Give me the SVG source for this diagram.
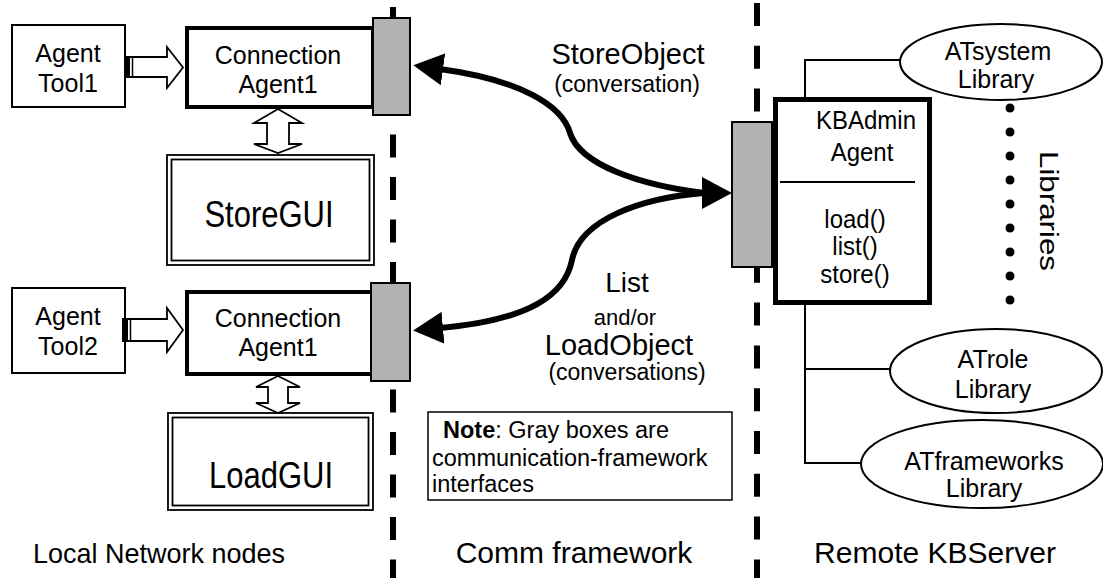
<svg xmlns="http://www.w3.org/2000/svg" width="1103" height="578" viewBox="0 0 1103 578">
<style>
text{font-family:"Liberation Sans",Arial,sans-serif;fill:#000}
.c{text-anchor:middle}
.box{fill:#fff;stroke:#000;stroke-width:2}
.thick{fill:#fff;stroke:#000;stroke-width:4}
.dbl{fill:none;stroke:#000;stroke-width:1.8}
.gray{fill:#b2b2b2;stroke:#000;stroke-width:2}
.blk{fill:#fff;stroke:#000;stroke-width:1.8;stroke-linejoin:miter}
.dash{stroke:#000;stroke-width:6;fill:none}
.curve{fill:none;stroke:#000;stroke-width:6}
.thin{fill:none;stroke:#000;stroke-width:2}
.ell{fill:#fff;stroke:#000;stroke-width:2}
.dot{fill:#000}
</style>
<defs>
<marker id="ah" markerUnits="userSpaceOnUse" viewBox="0 0 30 32" markerWidth="30" markerHeight="32" refX="3" refY="16" orient="auto"><path d="M0,0 L30,16 L0,32 z" fill="#000"/></marker>
</defs>
<rect width="1103" height="578" fill="#fff"/>

<g id="separators">
<line class="dash" x1="393" y1="0" x2="393" y2="578" stroke-dasharray="23 19.5" stroke-dashoffset="35.5"/>
<line class="dash" x1="757" y1="0" x2="757" y2="578" stroke-dasharray="23 19.8" stroke-dashoffset="39.8"/>
</g>

<g id="agentTool1">
<rect class="box" x="12" y="25" width="113" height="82"/>
<text class="c" font-size="25"><tspan x="68" y="62">Agent</tspan><tspan x="68" y="92">Tool1</tspan></text>
</g>
<g id="connAgent1">
<rect class="thick" x="187" y="28" width="186" height="79"/>
<text class="c" font-size="25"><tspan x="278" y="64">Connection</tspan><tspan x="278" y="93">Agent1</tspan></text>
<rect class="gray" x="373" y="18" width="37" height="97"/>
</g>
<g id="storeGUI">
<rect class="dbl" x="167" y="155" width="207" height="110"/>
<rect class="dbl" x="171.5" y="159.5" width="198" height="101"/>
<text class="c" font-size="31" transform="translate(269,227) scale(1,1.2)">StoreGUI</text>
</g>

<g id="agentTool2">
<rect class="box" x="12" y="288" width="113" height="85"/>
<text class="c" font-size="25"><tspan x="68" y="325">Agent</tspan><tspan x="68" y="355">Tool2</tspan></text>
</g>
<g id="connAgent2">
<rect class="thick" x="187" y="292" width="186" height="82"/>
<text class="c" font-size="25"><tspan x="278" y="327">Connection</tspan><tspan x="278" y="356">Agent1</tspan></text>
<rect class="gray" x="371" y="283" width="39" height="98"/>
</g>
<g id="loadGUI">
<rect class="dbl" x="168" y="413" width="205" height="97"/>
<rect class="dbl" x="172.5" y="417.5" width="196" height="88"/>
<text class="c" font-size="31" transform="translate(271,488) scale(1,1.2)">LoadGUI</text>
</g>

<g id="kbAdmin">
<rect class="gray" x="732" y="122" width="40" height="145"/>
<rect x="775.5" y="99.5" width="154" height="203" fill="#fff" stroke="#000" stroke-width="5"/>
<line x1="780" y1="182" x2="915" y2="182" stroke="#000" stroke-width="1.8"/>
<text class="c" font-size="24" transform="translate(0,129) scale(1,1.1)"><tspan x="866" y="0">KBAdmin</tspan><tspan x="862" y="29">Agent</tspan></text>
<text class="c" font-size="24" transform="translate(0,228) scale(1,1.1)"><tspan x="855" y="0">load()</tspan><tspan x="855" y="25">list()</tspan><tspan x="855" y="50">store()</tspan></text>
</g>

<g id="atSystem">
<ellipse class="ell" cx="1001" cy="62" rx="101" ry="38"/>
<text class="c" font-size="25"><tspan x="998" y="60">ATsystem</tspan><tspan x="996" y="88">Library</tspan></text>
</g>
<g id="atRole">
<ellipse class="ell" cx="996" cy="371" rx="106" ry="42"/>
<text class="c" font-size="25"><tspan x="993" y="368">ATrole</tspan><tspan x="993" y="398">Library</tspan></text>
</g>
<g id="atFrameworks">
<ellipse class="ell" cx="982" cy="464" rx="121" ry="44"/>
<text class="c" font-size="25"><tspan x="984" y="470">ATframeworks</tspan><tspan x="984" y="497">Library</tspan></text>
</g>
<g id="libraries">
<g class="dot">
<circle cx="1010" cy="108" r="4.5"/><circle cx="1010" cy="132" r="4.5"/><circle cx="1010" cy="156" r="4.5"/><circle cx="1010" cy="180" r="4.5"/><circle cx="1010" cy="204" r="4.5"/><circle cx="1010" cy="228" r="4.5"/><circle cx="1010" cy="252" r="4.5"/><circle cx="1010" cy="276" r="4.5"/><circle cx="1010" cy="300" r="4.5"/>
</g>
<text class="c" font-size="26" transform="translate(1040,211) rotate(90)" textLength="120" lengthAdjust="spacingAndGlyphs">Libraries</text>
</g>

<g id="note">
<rect x="428" y="412" width="304" height="88" fill="#fff" stroke="#000" stroke-width="1.5"/>
<text font-size="23.5"><tspan x="443" y="438"><tspan font-weight="bold">Note</tspan>: Gray boxes are</tspan><tspan x="432" y="466">communication-framework</tspan><tspan x="432" y="492">interfaces</tspan></text>
</g>

<g id="connectors">
<path class="thin" d="M805,97 V60 H900"/>
<path class="thin" d="M805,305 V463 H861 M805,369 H890"/>
<path class="curve" d="M704,193 C640,185 580,165 570,133 C562,105 520,80 440,69" marker-end="url(#ah)"/>
<path class="curve" d="M704,193 C640,198 580,220 572,260 C565,295 530,320 440,328" marker-end="url(#ah)"/>
<path class="curve" d="M696,193 L705,193" marker-end="url(#ah)"/>
<polygon class="blk" points="127,57 167,57 167,47 183,67.5 167,88 167,77 127,77"/>
<rect x="126" y="57" width="4" height="20" fill="#000"/>
<line x1="132.5" y1="57" x2="132.5" y2="77" stroke="#000" stroke-width="1.5"/>
<polygon class="blk" points="123,319 167,319 167,308 183,330 167,352 167,341 123,341"/>
<rect x="122" y="319" width="6" height="22" fill="#000"/>
<line x1="130.5" y1="319" x2="130.5" y2="341" stroke="#000" stroke-width="1.5"/>
<polygon class="blk" points="278,109 302,123 289,123 289,144 302,144 278,153 254,144 267,144 267,123 254,123"/>
<polygon class="blk" points="278,376 300,387 288,387 288,403 300,403 278,413 256,403 268,403 268,387 256,387"/>
</g>

<g id="labels">
<text class="c" font-size="22"><tspan x="628" y="64" font-size="29">StoreObject</tspan><tspan x="627" y="92" font-size="23">(conversation)</tspan></text>
<text class="c"><tspan x="627" y="292" font-size="28">List</tspan><tspan x="625" y="325" font-size="22">and/or</tspan><tspan x="619" y="355" font-size="29">LoadObject</tspan><tspan x="627" y="380" font-size="23">(conversations)</tspan></text>
<text class="c" font-size="28" x="159" y="563" textLength="252" lengthAdjust="spacingAndGlyphs">Local Network nodes</text>
<text class="c" font-size="30" x="574" y="563">Comm framework</text>
<text class="c" font-size="30" x="935" y="563">Remote KBServer</text>
</g>
</svg>
